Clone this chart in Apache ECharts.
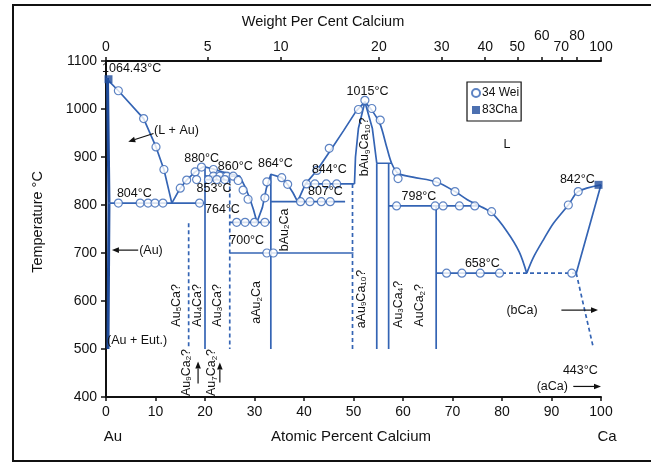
<!DOCTYPE html>
<html>
<head>
<meta charset="utf-8">
<script src="https://cdn.jsdelivr.net/npm/echarts@6/dist/echarts.min.js"></script>
<style>
  html, body { margin: 0; padding: 0; background: #fff; }
  #chart { width: 651px; height: 464px; }
</style>
</head>
<body>
<div id="chart"></div>
<script>
// ---------- Axes ----------
const atomicTicks = [0, 10, 20, 30, 40, 50, 60, 70, 80, 90, 100];
const tempTicks = [400, 500, 600, 700, 800, 900, 1000, 1100];
const weightLabels = [0, 5, 10, 20, 30, 40, 50, 60, 70, 80, 100];
const raisedWeightLabels = [60, 80];

// ---------- Phase boundaries (at.% Ca, °C) ----------
const auSolvus = [[0.3, 1064.43], [0.6, 804], [0.4, 500]];
const liquidusAu = [[0, 1064.43], [2.5, 1038], [7.6, 980], [10.1, 921], [11.7, 874], [13.3, 804]];
const liquidusMid = [[13.3, 804], [15, 835], [16.3, 852], [18, 869], [19.7, 880], [21.7, 875], [23.5, 869],
  [25.5, 864], [27, 860], [28, 840], [29, 815], [29.8, 790], [30.5, 764], [31.6, 795], [32.4, 835], [33.3, 864],
  [35.5, 857], [36.7, 843], [37.8, 825], [38.7, 807], [40.3, 844], [42.6, 872], [45.3, 913], [48, 955],
  [50.5, 995], [52.3, 1015]];
const liquidusCa1 = [[52.3, 1015], [54, 993], [55.4, 968], [56.7, 921], [57.7, 887], [59, 866], [62, 858],
  [66.8, 848], [70.5, 828], [73, 811], [75.5, 798], [78, 783], [81, 745], [83.5, 702], [85, 658]];
const liquidusCa2 = [[85, 658], [86.3, 690], [88.5, 730], [90.4, 762], [93.4, 800], [95.4, 828], [100, 842]];
const solidusLeft = [[52.3, 1015], [51, 960], [50.4, 900], [50.2, 844]];
const solidusRight = [[52.3, 1015], [53.8, 960], [54.7, 887]];
const caSolvusUpper = [[100, 842], [97.5, 750], [95, 658]];
const caSolvusLower = [[95, 658], [96.5, 590], [98.4, 505]];

// horizontal reaction lines: [xStart, xEnd, temperature]
const isotherms = [[0.5, 19.8, 804], [20, 27, 860], [20, 25, 853], [25, 33.3, 764], [25, 50, 700],
  [33.3, 48.3, 807], [40.3, 50.2, 844], [54.7, 57.7, 887], [57.1, 75.5, 798], [66.7, 80, 658]];
const dashedIsotherms = [[80, 95, 658]];

// vertical compound lines: [x, topTemp, bottomTemp]
const solidCompounds = [[20, 880, 500], [33.3, 864, 500], [54.7, 887, 500], [57.1, 887, 500], [66.7, 798, 500]];
const dashedCompounds = [[16.7, 762, 500], [25, 853, 500], [49.8, 844, 500]];

// ---------- Data points ----------
const weiPoints = [[2.5, 1038], [7.6, 980], [10.1, 921], [11.7, 874],
  [2.5, 804], [6.9, 804], [8.5, 804], [9.9, 804], [11.5, 804], [18.9, 804],
  [15, 835], [16.3, 852], [18, 869], [19.3, 879], [21.7, 874],
  [21.7, 860], [23, 860], [24.4, 860], [25.7, 860],
  [18.3, 853], [20.7, 853], [22.4, 853], [24, 853],
  [26.7, 851], [27.7, 831], [28.7, 812],
  [26.4, 764], [28.1, 764], [30, 764], [32.1, 764],
  [32.1, 815], [32.5, 848], [35.5, 857], [36.7, 843],
  [32.5, 700], [33.8, 700],
  [39.3, 807], [41.2, 807], [43.5, 807], [45.3, 807],
  [40.5, 844], [42.2, 844], [44.5, 844], [46.6, 844],
  [42.6, 872], [45.1, 918],
  [52.3, 1018], [51, 999], [53.7, 1001], [55.4, 977],
  [58.7, 869], [59, 855],
  [58.7, 798], [66.5, 798], [68.1, 798], [71.4, 798], [74.5, 798],
  [66.8, 848], [70.5, 828], [77.9, 786],
  [68.8, 658], [71.9, 658], [75.6, 658], [79.5, 658], [94.1, 658],
  [93.4, 800], [95.4, 828]];
const chaPoints = [[0.5, 1062], [99.5, 842]];

// ---------- Annotations ----------
const tempNotes = [[-0.8, 1085, '1064.43°C'], [2.2, 824, '804°C'], [15.8, 897, '880°C'], [22.6, 880, '860°C'],
  [30.7, 887, '864°C'], [18.3, 835, '853°C'], [20, 791, '764°C'], [24.9, 725, '700°C'], [41.6, 873, '844°C'],
  [40.8, 827, '807°C'], [48.6, 1036, '1015°C'], [59.7, 817, '798°C'], [91.7, 852, '842°C'], [72.5, 678, '658°C'],
  [92.3, 456, '443°C']];
const phaseNotes = [[9.7, 956, '(L + Au)'], [6.7, 706, '(Au)'], [0.2, 518, '(Au + Eut.)'], [80.3, 925, 'L'],
  [80.9, 581, '(bCa)'], [87, 422, '(aCa)']];
const compoundNotes = [[14.3, 591, 'Au{s|5}Ca?'], [18.4, 591, 'Au{s|4}Ca?'], [22.5, 591, 'Au{s|3}Ca?'],
  [30.5, 597, 'aAu{s|2}Ca'], [36, 748, 'bAu{s|2}Ca'], [52.3, 921, 'bAu{s|9}Ca{s|10}?'],
  [51.6, 604, 'aAu{s|9}Ca{s|10}?'], [59, 593, 'Au{s|3}Ca{s|4}?'], [63.4, 591, 'AuCa{s|2}?'],
  [16.3, 451, 'Au{s|9}Ca{s|2}?'], [21.4, 451, 'Au{s|7}Ca{s|2}?']];
// arrows: [xFrom, yFrom, xTo, yTo]
const arrows = [[9.6, 949, 4.5, 932], [6.5, 706, 1.2, 706], [92, 581, 99.4, 581], [94.4, 422, 100, 422],
  [18.6, 428, 18.6, 474], [23, 430, 23, 472]];

// ---------- Styling ----------
const FONT = '"Liberation Sans", Arial, Helvetica, sans-serif';
const BLUE = '#3464b4';
const DARK_BLUE = '#1f4c9c';
const INK = '#111';

const atomicFromWeight = w => {
  const ca = w / 40.08, au = (100 - w) / 196.97;
  return 100 * ca / (ca + au);
};
const topTickPositions = weightLabels.map(atomicFromWeight);

const SUB = { fontSize: 8, fontFamily: FONT, fill: INK, verticalAlign: 'bottom', lineHeight: 8 };

function lineSeries(data, opts = {}) {
  return {
    type: 'line', data, symbol: 'none', silent: true, z: 3,
    smooth: opts.smooth || false,
    lineStyle: { color: opts.color || BLUE, width: opts.width || 1.7, type: opts.dashed ? [4, 3] : 'solid' }
  };
}

function labelSeries(list, opts) {
  return {
    type: 'custom', silent: true, clip: false, z: 6,
    data: list.map(r => [r[0], r[1]]),
    encode: { x: 0, y: 1 },
    renderItem: (params, api) => {
      const p = api.coord([api.value(0), api.value(1)]);
      return {
        type: 'text', x: p[0], y: p[1], rotation: opts.rotate ? Math.PI / 2 : 0,
        style: {
          text: list[params.dataIndex][2], fill: INK, fontSize: opts.size, fontFamily: FONT,
          align: opts.rotate ? 'center' : 'left', verticalAlign: 'middle',
          rich: { s: SUB }
        }
      };
    }
  };
}

const arrowSeries = {
  type: 'custom', silent: true, clip: false, z: 6,
  data: arrows.map(a => a.slice()),
  encode: { x: [0, 2], y: [1, 3] },
  renderItem: (params, api) => {
    const p1 = api.coord([api.value(0), api.value(1)]);
    const p2 = api.coord([api.value(2), api.value(3)]);
    const ang = Math.atan2(p2[1] - p1[1], p2[0] - p1[0]);
    const L = 7, W = 2.8;
    const bx = p2[0] - L * Math.cos(ang), by = p2[1] - L * Math.sin(ang);
    const nx = -Math.sin(ang), ny = Math.cos(ang);
    return {
      type: 'group', children: [
        { type: 'line', shape: { x1: p1[0], y1: p1[1], x2: bx, y2: by }, style: { stroke: INK, lineWidth: 1.2 } },
        { type: 'polygon', shape: { points: [[p2[0], p2[1]], [bx + nx * W, by + ny * W], [bx - nx * W, by - ny * W]] },
          style: { fill: INK } }
      ]
    };
  }
};

const series = [];
series.push(lineSeries(auSolvus, { color: DARK_BLUE, width: 3 }));
series.push(lineSeries(liquidusAu));
series.push(lineSeries(liquidusMid));
series.push(lineSeries(liquidusCa1, { smooth: 0.3 }));
series.push(lineSeries(liquidusCa2, { smooth: 0.3 }));
series.push(lineSeries(solidusLeft));
series.push(lineSeries(solidusRight));
series.push(lineSeries(caSolvusUpper));
series.push(lineSeries(caSolvusLower, { dashed: true }));
isotherms.forEach(h => series.push(lineSeries([[h[0], h[2]], [h[1], h[2]]])));
dashedIsotherms.forEach(h => series.push(lineSeries([[h[0], h[2]], [h[1], h[2]]], { dashed: true })));
solidCompounds.forEach(v => series.push(lineSeries([[v[0], v[1]], [v[0], v[2]]])));
dashedCompounds.forEach(v => series.push(lineSeries([[v[0], v[1]], [v[0], v[2]]], { dashed: true })));

series.push({
  name: '34 Wei', type: 'scatter', data: weiPoints, symbol: 'circle', symbolSize: 8, z: 4, silent: true,
  itemStyle: { color: '#fff', borderColor: BLUE, borderWidth: 1.2 }
});
series.push({
  name: '83Cha', type: 'scatter', data: chaPoints, symbol: 'rect', symbolSize: 8, z: 4, silent: true,
  itemStyle: { color: DARK_BLUE }
});
series.push(labelSeries(tempNotes, { size: 12.5 }));
series.push(labelSeries(phaseNotes, { size: 12.5 }));
series.push(labelSeries(compoundNotes, { size: 12.5, rotate: true }));
series.push(arrowSeries);

const axisLine = { show: true, lineStyle: { color: INK, width: 2 } };
const tickStyle = { show: true, length: 4, lineStyle: { color: INK, width: 1.5 } };
const tickFont = { color: INK, fontSize: 14, fontFamily: FONT };

const chart = echarts.init(document.getElementById('chart'), null, { renderer: 'canvas' });
chart.setOption({
  animation: false,
  backgroundColor: '#fff',
  grid: { left: 106, right: 50, top: 61, bottom: 67 },
  legend: {
    data: ['34 Wei', '83Cha'], left: 467, top: 82, orient: 'vertical', selectedMode: false,
    borderColor: INK, borderWidth: 1.2, padding: [5, 2, 5, 4], itemGap: 5, itemWidth: 8, itemHeight: 8,
    textStyle: { color: INK, fontSize: 12, fontFamily: FONT, padding: [0, 0, 0, -3] }
  },
  xAxis: [
    {
      type: 'value', position: 'bottom', min: atomicTicks[0], max: atomicTicks[atomicTicks.length - 1], interval: 10,
      axisLine, axisTick: tickStyle, splitLine: { show: false },
      axisLabel: { ...tickFont, margin: 8, formatter: v => String(v) }
    },
    {
      type: 'value', position: 'top', min: 0, max: 100,
      axisLine, splitLine: { show: false },
      axisTick: { ...tickStyle, customValues: topTickPositions },
      axisLabel: {
        ...tickFont, margin: 7, customValues: topTickPositions, showMinLabel: true, showMaxLabel: true,
        formatter: v => {
          const i = topTickPositions.findIndex(t => Math.abs(t - v) < 1e-6);
          if (i < 0) return '';
          const w = weightLabels[i];
          return raisedWeightLabels.includes(w) ? '{up|' + w + '}' : String(w);
        },
        rich: { up: { fontSize: 14, fontFamily: FONT, color: INK, padding: [0, 0, 11, 0] } }
      }
    }
  ],
  yAxis: [
    {
      type: 'value', position: 'left', min: tempTicks[0], max: tempTicks[tempTicks.length - 1], interval: 100,
      axisLine, axisTick: { ...tickStyle, length: 5 }, splitLine: { show: false },
      axisLabel: { ...tickFont, margin: 9, formatter: v => String(v) }
    },
    {
      type: 'value', position: 'right', min: 400, max: 1100,
      axisLine, axisTick: { show: false }, axisLabel: { show: false }, splitLine: { show: false }
    }
  ],
  graphic: [
    { type: 'rect', shape: { x: 13, y: 5, width: 700, height: 456 }, style: { fill: 'none', stroke: INK, lineWidth: 2 }, silent: true },
    { type: 'text', x: 323, y: 22, style: { text: 'Weight Per Cent Calcium', fontSize: 14.5, fontFamily: FONT, fill: INK, align: 'center', verticalAlign: 'middle' } },
    { type: 'text', x: 351, y: 437, style: { text: 'Atomic Percent Calcium', fontSize: 15, fontFamily: FONT, fill: INK, align: 'center', verticalAlign: 'middle' } },
    { type: 'text', x: 113, y: 437, style: { text: 'Au', fontSize: 15, fontFamily: FONT, fill: INK, align: 'center', verticalAlign: 'middle' } },
    { type: 'text', x: 607, y: 437, style: { text: 'Ca', fontSize: 15, fontFamily: FONT, fill: INK, align: 'center', verticalAlign: 'middle' } },
    { type: 'text', x: 38, y: 222, rotation: Math.PI / 2, style: { text: 'Temperature °C', fontSize: 14.5, fontFamily: FONT, fill: INK, align: 'center', verticalAlign: 'middle' } }
  ],
  series
});
</script>
</body>
</html>
